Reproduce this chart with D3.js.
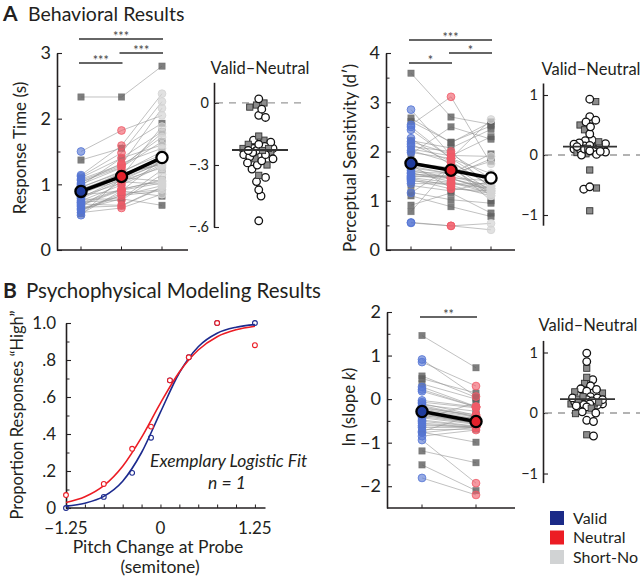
<!DOCTYPE html>
<html><head><meta charset="utf-8">
<script src="https://cdn.jsdelivr.net/npm/d3@7"></script>
<style>body{margin:0;background:#fff}svg{display:block}</style>
</head><body><svg id="c" width="640" height="577"></svg>
<script>
// ---------------- DATA ----------------
const conditions = ["Valid", "Neutral", "Short-No Cue"];
const subjectShape = ["s","c","s","c","c","s","c","c","s","c","c","c","s","c","c","s","c","c","c","s","c","c","s","c","c","s","c","c","c","s","c","c","s","c","c","s","c","s","s","c","c"];

const rtValid   = [2.33,1.50,1.37,1.14,1.12,1.10,1.08,1.06,1.04,1.02,1.00,0.98,0.96,0.95,0.93,0.92,0.90,0.89,0.88,0.87,0.85,0.84,0.82,0.80,0.78,0.77,0.75,0.73,0.72,0.70,0.68,0.66,0.65,0.63,0.61,0.60,0.57,0.55,0.62,0.70,0.53];
const rtNeutral = [2.33,1.82,1.55,1.59,1.48,1.40,1.30,1.28,1.26,1.32,1.25,1.40,1.18,1.20,1.12,1.16,1.17,1.12,1.06,1.14,1.11,0.90,1.02,1.09,1.06,0.78,0.99,0.76,0.93,0.92,0.91,1.04,0.67,0.83,0.86,0.83,0.64,0.90,0.78,0.68,1.10];
const rtShort   = [2.80,2.05,1.93,2.38,2.26,1.80,2.16,1.72,1.65,1.55,1.78,1.60,1.50,1.45,1.40,1.36,1.30,1.88,1.34,1.32,1.35,1.38,1.30,1.32,1.25,1.22,1.28,1.15,1.05,1.07,1.02,1.00,0.95,0.98,0.92,0.90,0.85,0.82,0.68,0.96,1.05];

const dpValid   = [3.59,2.85,2.68,2.54,2.50,2.61,2.44,2.27,2.22,2.20,2.15,2.10,2.05,2.02,1.98,1.95,1.77,1.73,1.70,1.67,1.65,1.61,1.59,1.57,1.55,1.53,1.51,1.49,1.47,1.31,1.45,1.43,1.17,1.40,1.35,0.91,1.16,0.78,1.10,0.56,0.55];
const dpNeutral = [2.70,1.92,2.18,3.11,1.86,2.19,1.86,1.72,2.07,1.95,1.80,2.00,1.91,1.78,1.86,2.50,1.67,1.26,1.55,1.55,1.45,1.45,1.55,1.39,1.47,1.51,1.45,1.49,1.37,1.20,1.31,1.24,1.02,1.35,1.34,1.16,1.69,1.71,0.88,0.49,0.49];
const dpShort   = [2.55,1.90,2.60,1.75,1.55,2.52,2.65,1.20,2.45,1.45,1.30,1.25,2.30,1.30,1.35,2.25,1.15,1.15,1.25,1.95,1.20,1.25,1.80,1.18,1.40,1.85,1.22,1.30,1.15,1.40,1.10,1.20,0.95,1.25,1.35,0.75,1.10,1.00,0.68,0.54,0.41];

const lnkValid   = [1.46,0.91,0.53,0.85,0.28,0.47,0.22,0.18,0.35,-0.03,-0.07,-0.10,-0.13,-0.15,-0.18,-0.21,-0.23,-0.25,-0.28,-0.30,-0.33,-0.35,-0.37,-0.40,-0.43,-0.45,-0.48,-0.51,-0.55,-0.58,-0.61,-0.65,-0.70,-0.77,-0.85,-0.76,-0.74,-1.19,-1.51,-1.81,-0.94];
const lnkNeutral = [0.72,0.06,0.04,0.30,-0.17,0.14,-0.18,-0.18,0.00,-0.18,-0.20,-0.37,-0.28,-0.40,-0.40,-0.36,-0.41,-0.45,-0.53,-0.46,-0.55,-0.55,-0.55,-0.56,-0.58,-0.09,-0.62,-0.63,-0.65,-0.66,-0.63,-0.65,-0.69,-0.65,-0.71,-0.99,-0.36,-1.46,-2.10,-2.20,-1.93];

const rtTicks = [0, 1, 2, 3];
const dpTicks = [0, 1, 2, 3, 4];
const lnkTicks = [-2, -1, 0, 1, 2];
const rtDiffTicks = [0, -0.3, -0.6];
const rtDiffTickLabels = ["0", "\u2212.3", "\u2212.6"];
const unitDiffTicks = [-1, 0, 1];

const rtSig = [["Valid","Short-No Cue","***"],["Valid","Neutral","***"],["Neutral","Short-No Cue","***"]];
const dpSig = [["Valid","Short-No Cue","***"],["Valid","Neutral","*"],["Neutral","Short-No Cue","*"]];
const lnkSig = [["Valid","Neutral","**"]];

// psychometric example (n = 1)
const pitchLevels  = [-1.25, -0.75, -0.375, -0.125, 0.125, 0.375, 0.75, 1.25];
const propValid    = [0.00, 0.06, 0.19, 0.38, 0.69, 0.815, 1.00, 1.00];
const propNeutral  = [0.07, 0.13, 0.32, 0.44, 0.69, 0.815, 1.00, 0.88];
const fitPitch     = [-1.25, -1.0, -0.75, -0.5, -0.25, 0, 0.25, 0.5, 0.75, 1.0, 1.25];
const fitValid     = [0.010, 0.026, 0.063, 0.145, 0.300, 0.518, 0.731, 0.872, 0.945, 0.977, 0.991];
const fitNeutral   = [0.030, 0.061, 0.121, 0.226, 0.382, 0.567, 0.735, 0.854, 0.926, 0.963, 0.982];
const propTicks = [0, 0.2, 0.4, 0.6, 0.8, 1.0];
const propTickLabels = ["0", ".2", ".4", ".6", ".8", "1.0"];
const pitchTicks = [-1.25, 0, 1.25];
const pitchTickLabels = ["\u22121.25", "0", "1.25"];

const legendItems = ["Valid", "Neutral", "Short-No Cue"];
const legendLabels = ["Valid", "Neutral", "Short-No"];

// ---------------- STYLE ----------------
const FONT = "Lato, 'Open Sans', sans-serif";
const INK = "#231f20";
const LEG = {"Valid": "#1b2a87", "Neutral": "#ec1c24", "Short-No Cue": "#d1d3d4"};
const PT = {"Valid": "#5576d4", "Neutral": "#f05a68", "Short-No Cue": "#d4d4d4"};
const MEANFILL = {"Valid": "#1f3c9e", "Neutral": "#e4212b", "Short-No Cue": "#ffffff"};
const minus = v => (v < 0 ? "\u2212" + Math.abs(v) : "" + v);

const svg = d3.select("#c");

function txt(x, y, s, o = {}) {
  const t = svg.append("text").attr("x", x).attr("y", y).text(s)
    .attr("font-family", FONT).attr("font-size", o.size || 16).attr("fill", INK)
    .attr("text-anchor", o.anchor || "start");
  if (o.weight) t.attr("font-weight", o.weight);
  if (o.style) t.attr("font-style", o.style);
  if (o.rotate) t.attr("transform", `rotate(-90,${x},${y})`);
  if (o.baseline) t.attr("dominant-baseline", o.baseline);
  return t;
}

function yAxis(scale, x, major, fmt, minor, fs, pad) {
  const a = svg.append("g").attr("transform", `translate(${x},0)`)
    .call(d3.axisLeft(scale).tickValues(major).tickFormat(fmt).tickSizeInner(-5).tickSizeOuter(0).tickPadding(pad));
  a.attr("font-family", FONT).attr("font-size", fs);
  a.select(".domain").attr("stroke", INK).attr("stroke-width", 1.6);
  a.selectAll(".tick line").attr("stroke", INK).attr("stroke-width", 1.1);
  a.selectAll(".tick text").attr("fill", INK);
  if (minor) {
    const m = svg.append("g").attr("transform", `translate(${x},0)`)
      .call(d3.axisLeft(scale).tickValues(minor).tickFormat("").tickSizeInner(-3.5).tickSizeOuter(0));
    m.select(".domain").remove();
    m.selectAll(".tick line").attr("stroke", INK).attr("stroke-width", 1);
  }
  return a;
}

function xBase(x0, x1, y, tickXs) {
  svg.append("line").attr("x1", x0).attr("x2", x1).attr("y1", y).attr("y2", y).attr("stroke", INK).attr("stroke-width", 1.6);
  svg.append("g").selectAll("line").data(tickXs).join("line")
    .attr("x1", d => d).attr("x2", d => d).attr("y1", y).attr("y2", y - 3.5).attr("stroke", INK).attr("stroke-width", 1);
}

function pairedPanel(o) {
  const x = d3.scalePoint().domain(o.cats).range(o.xRange);
  const y = d3.scaleLinear().domain(o.yDomain).range(o.yRange);
  yAxis(y, o.axisX, o.major, o.fmt, o.minor, o.fs, 6);
  xBase(o.axisX, o.axisEnd, o.yRange[0], o.cats.map(c => x(c)));
  const g = svg.append("g");
  const n = o.series[0].length;
  const line = d3.line().x(d => x(d.c)).y(d => y(d.v));
  const subj = d3.range(n).map(i => o.cats.map((c, j) => ({c, v: o.series[j][i]})));
  g.append("g").selectAll("path").data(subj).join("path").attr("d", line)
    .attr("fill", "none").attr("stroke", "#909090").attr("stroke-width", 0.8).attr("stroke-opacity", 0.7);
  const pts = [];
  o.cats.forEach((c, j) => o.series[j].forEach((v, i) => pts.push({c, v, shape: subjectShape[i]})));
  const sq = 6.4;
  g.append("g").selectAll("rect").data(pts.filter(p => p.shape === "s")).join("rect")
    .attr("x", d => x(d.c) - sq / 2).attr("y", d => y(d.v) - sq / 2).attr("width", sq).attr("height", sq)
    .attr("fill", "#5e5e5e").attr("fill-opacity", 0.8).attr("stroke", "#666").attr("stroke-opacity", 0.6).attr("stroke-width", 0.6);
  g.append("g").selectAll("circle").data(pts.filter(p => p.shape === "c")).join("circle")
    .attr("cx", d => x(d.c)).attr("cy", d => y(d.v)).attr("r", 3.9)
    .attr("fill", d => PT[d.c]).attr("fill-opacity", d => d.c === "Short-No Cue" ? 0.7 : 0.62)
    .attr("stroke", d => PT[d.c]).attr("stroke-opacity", 0.8).attr("stroke-width", 1);
  const means = o.cats.map((c, j) => ({c, v: d3.mean(o.series[j])}));
  g.append("path").datum(means).attr("d", line).attr("fill", "none").attr("stroke", "#000").attr("stroke-width", 3.6);
  g.append("g").selectAll("circle").data(means).join("circle")
    .attr("cx", d => x(d.c)).attr("cy", d => y(d.v)).attr("r", 5.6)
    .attr("fill", d => MEANFILL[d.c]).attr("stroke", "#000").attr("stroke-width", 2.3);
  o.sig.forEach((s, k) => {
    const x0 = x(s[0]) - 2, x1 = x(s[1]) + 1, yy = o.sigY[k];
    svg.append("line").attr("x1", x0).attr("x2", x1).attr("y1", yy).attr("y2", yy).attr("stroke", "#333").attr("stroke-width", 1.6);
    txt((x0 + x1) / 2, yy + 2, s[2], {size: 12.5, anchor: "middle"}).attr("fill", "#444");
  });
}

// compact beeswarm: offsets limited to +-maxOff, overlap allowed when crowded
function swarm(vals, y, cx, r, maxOff) {
  const idx = d3.range(vals.length).sort((a, b) => d3.descending(vals[a], vals[b]));
  const cands = d3.range(-maxOff, maxOff + 0.01, 0.75).sort((a, b) => Math.abs(a) - Math.abs(b));
  const placed = [], xs = [];
  const sep = 2 * r * 0.8;
  for (const i of idx) {
    const py = y(vals[i]);
    let best = 0, bestD = -1;
    for (const o of cands) {
      const d = placed.length ? d3.min(placed, p => Math.hypot(p.x - (cx + o), p.y - py)) : Infinity;
      if (d >= sep) { best = o; bestD = d; break; }
      if (d > bestD + 0.5) { bestD = d; best = o; }
    }
    xs[i] = cx + best; placed.push({x: cx + best, y: py});
  }
  return xs;
}

function inset(o) {
  const y = d3.scaleLinear().domain(o.yDomain).range(o.yRange);
  yAxis(y, o.axisX, o.ticks, (d, i) => o.labels[i], null, 14.5, 5);
  svg.append("line").attr("x1", o.axisX + 2).attr("x2", o.dashEnd).attr("y1", y(0)).attr("y2", y(0))
    .attr("stroke", "#9a9a9a").attr("stroke-width", 1.3).attr("stroke-dasharray", "7,6");
  const diffs = o.a.map((v, i) => v - o.b[i]);
  const xs = swarm(diffs, y, o.cx, 4.0, 16);
  const pts = diffs.map((v, i) => ({v, x: xs[i], shape: subjectShape[i]}));
  const g = svg.append("g");
  pts.forEach(d => {
    if (d.shape === "s") {
      g.append("rect").attr("x", d.x - 3.1).attr("y", y(d.v) - 3.1).attr("width", 6.2).attr("height", 6.2)
        .attr("fill", "#8c8c8c").attr("stroke", "#333").attr("stroke-width", 0.9);
    } else {
      g.append("circle").attr("cx", d.x).attr("cy", y(d.v)).attr("r", 3.8)
        .attr("fill", "#fff").attr("stroke", "#111").attr("stroke-width", 1.3);
    }
  });
  const m = d3.mean(diffs);
  svg.append("line").attr("x1", o.meanX[0]).attr("x2", o.meanX[1]).attr("y1", y(m)).attr("y2", y(m))
    .attr("stroke", "#333").attr("stroke-width", 1.8);
  txt(o.cx + 1, o.titleY, "Valid\u2013Neutral", {size: 16.5, anchor: "middle"});
}

// ---------------- PANEL A ----------------
txt(3, 21, "A", {size: 21, weight: "bold"});
txt(28, 21, "Behavioral Results", {size: 19.5});

pairedPanel({
  cats: conditions, series: [rtValid, rtNeutral, rtShort],
  xRange: [81, 162], yDomain: [0, 3], yRange: [250, 53], axisX: 57, axisEnd: 188,
  major: rtTicks, fmt: d => d, minor: [0.5, 1.5, 2.5], fs: 18,
  sig: rtSig, sigY: [39, 63, 53]
});
txt(19, 148, "Response Time (s)", {size: 17, anchor: "middle", rotate: true, baseline: "central"});

inset({a: rtValid, b: rtNeutral, yDomain: [-0.6, 0.1], yRange: [227, 82.3], axisX: 214,
  ticks: rtDiffTicks, labels: rtDiffTickLabels, dashEnd: 304, cx: 259, meanX: [232, 288], titleY: 74});

pairedPanel({
  cats: conditions, series: [dpValid, dpNeutral, dpShort],
  xRange: [411, 491], yDomain: [0, 4], yRange: [250, 53], axisX: 386, axisEnd: 515,
  major: dpTicks, fmt: d => d, minor: [0.5, 1.5, 2.5, 3.5], fs: 18,
  sig: dpSig, sigY: [40, 63, 53]
});
txt(349, 158, "Perceptual Sensitivity (d\u2032)", {size: 17, anchor: "middle", rotate: true, baseline: "central"});

inset({a: dpValid, b: dpNeutral, yDomain: [-1.17, 1.2], yRange: [225.2, 83], axisX: 543,
  ticks: unitDiffTicks, labels: unitDiffTicks.map(minus), dashEnd: 640, cx: 590, meanX: [563, 617], titleY: 75});

// ---------------- PANEL B ----------------
txt(3, 298, "B", {size: 21, weight: "bold"});
txt(26, 298, "Psychophysical Modeling Results", {size: 20.5});

(function () {
  const x = d3.scaleLinear().domain([-1.25, 1.39]).range([66, 265.5]);
  const y = d3.scaleLinear().domain([0, 1]).range([508, 323]);
  yAxis(y, 66, propTicks, (d, i) => propTickLabels[i], d3.range(0.1, 1, 0.2), 17, 10);
  xBase(66, 265.5, 508, []);
  const xt = svg.append("g").attr("transform", "translate(0,508)")
    .call(d3.axisBottom(x).tickValues(d3.range(-1.25, 1.26, 0.25)).tickFormat("").tickSizeInner(-3.5).tickSizeOuter(0));
  xt.select(".domain").remove();
  xt.selectAll(".tick line").attr("stroke", INK);
  pitchTicks.forEach((v, i) => txt(x(v), 534, pitchTickLabels[i], {size: 17, anchor: "middle"}));
  const ln = d3.line().x((d, i) => x(fitPitch[i])).y(d => y(d)).curve(d3.curveMonotoneX);
  svg.append("path").datum(fitValid).attr("d", ln).attr("fill", "none").attr("stroke", "#1c2a8e").attr("stroke-width", 1.6);
  svg.append("path").datum(fitNeutral).attr("d", ln).attr("fill", "none").attr("stroke", "#ec1c24").attr("stroke-width", 1.6);
  svg.append("g").selectAll("circle").data(propValid).join("circle")
    .attr("cx", (d, i) => x(pitchLevels[i])).attr("cy", d => y(d)).attr("r", 2.4)
    .attr("fill", "none").attr("stroke", "#1c2a8e").attr("stroke-width", 1.1);
  svg.append("g").selectAll("circle").data(propNeutral).join("circle")
    .attr("cx", (d, i) => x(pitchLevels[i])).attr("cy", d => y(d)).attr("r", 2.4)
    .attr("fill", "#fff").attr("stroke", "#ec1c24").attr("stroke-width", 1.1);
  txt(17, 415, "Proportion Responses \u201CHigh\u201D", {size: 16.5, anchor: "middle", rotate: true, baseline: "central"});
  txt(158, 553, "Pitch Change at Probe", {size: 17.5, anchor: "middle"});
  txt(160, 573, "(semitone)", {size: 17.5, anchor: "middle"});
  txt(150, 467, "Exemplary Logistic Fit", {size: 17.5, style: "italic"});
  txt(227, 489, "n = 1", {size: 17.5, style: "italic", anchor: "middle"});
})();

pairedPanel({
  cats: ["Valid", "Neutral"], series: [lnkValid, lnkNeutral],
  xRange: [422, 476], yDomain: [-2.5, 2], yRange: [508, 312], axisX: 387, axisEnd: 515,
  major: lnkTicks, fmt: minus, minor: [-1.5, -0.5, 0.5, 1.5], fs: 18,
  sig: lnkSig, sigY: [317]
});
(function () {
  const t = txt(348, 407, "", {size: 17, anchor: "middle", rotate: true, baseline: "central"});
  t.append("tspan").text("ln (slope ");
  t.append("tspan").text("k").attr("font-style", "italic");
  t.append("tspan").text(")");
})();

inset({a: lnkValid, b: lnkNeutral, yDomain: [-1.15, 1.2], yRange: [482.6, 340.4], axisX: 543,
  ticks: unitDiffTicks, labels: unitDiffTicks.map(minus), dashEnd: 640, cx: 587, meanX: [560, 615], titleY: 331});

// legend
legendItems.forEach((c, i) => {
  const yy = 518 + i * 19.5;
  svg.append("rect").attr("x", 550).attr("y", yy - 7).attr("width", 14).attr("height", 14).attr("fill", LEG[c]);
  txt(573, yy + 5.5, legendLabels[i], {size: 16});
});
</script></body></html>
